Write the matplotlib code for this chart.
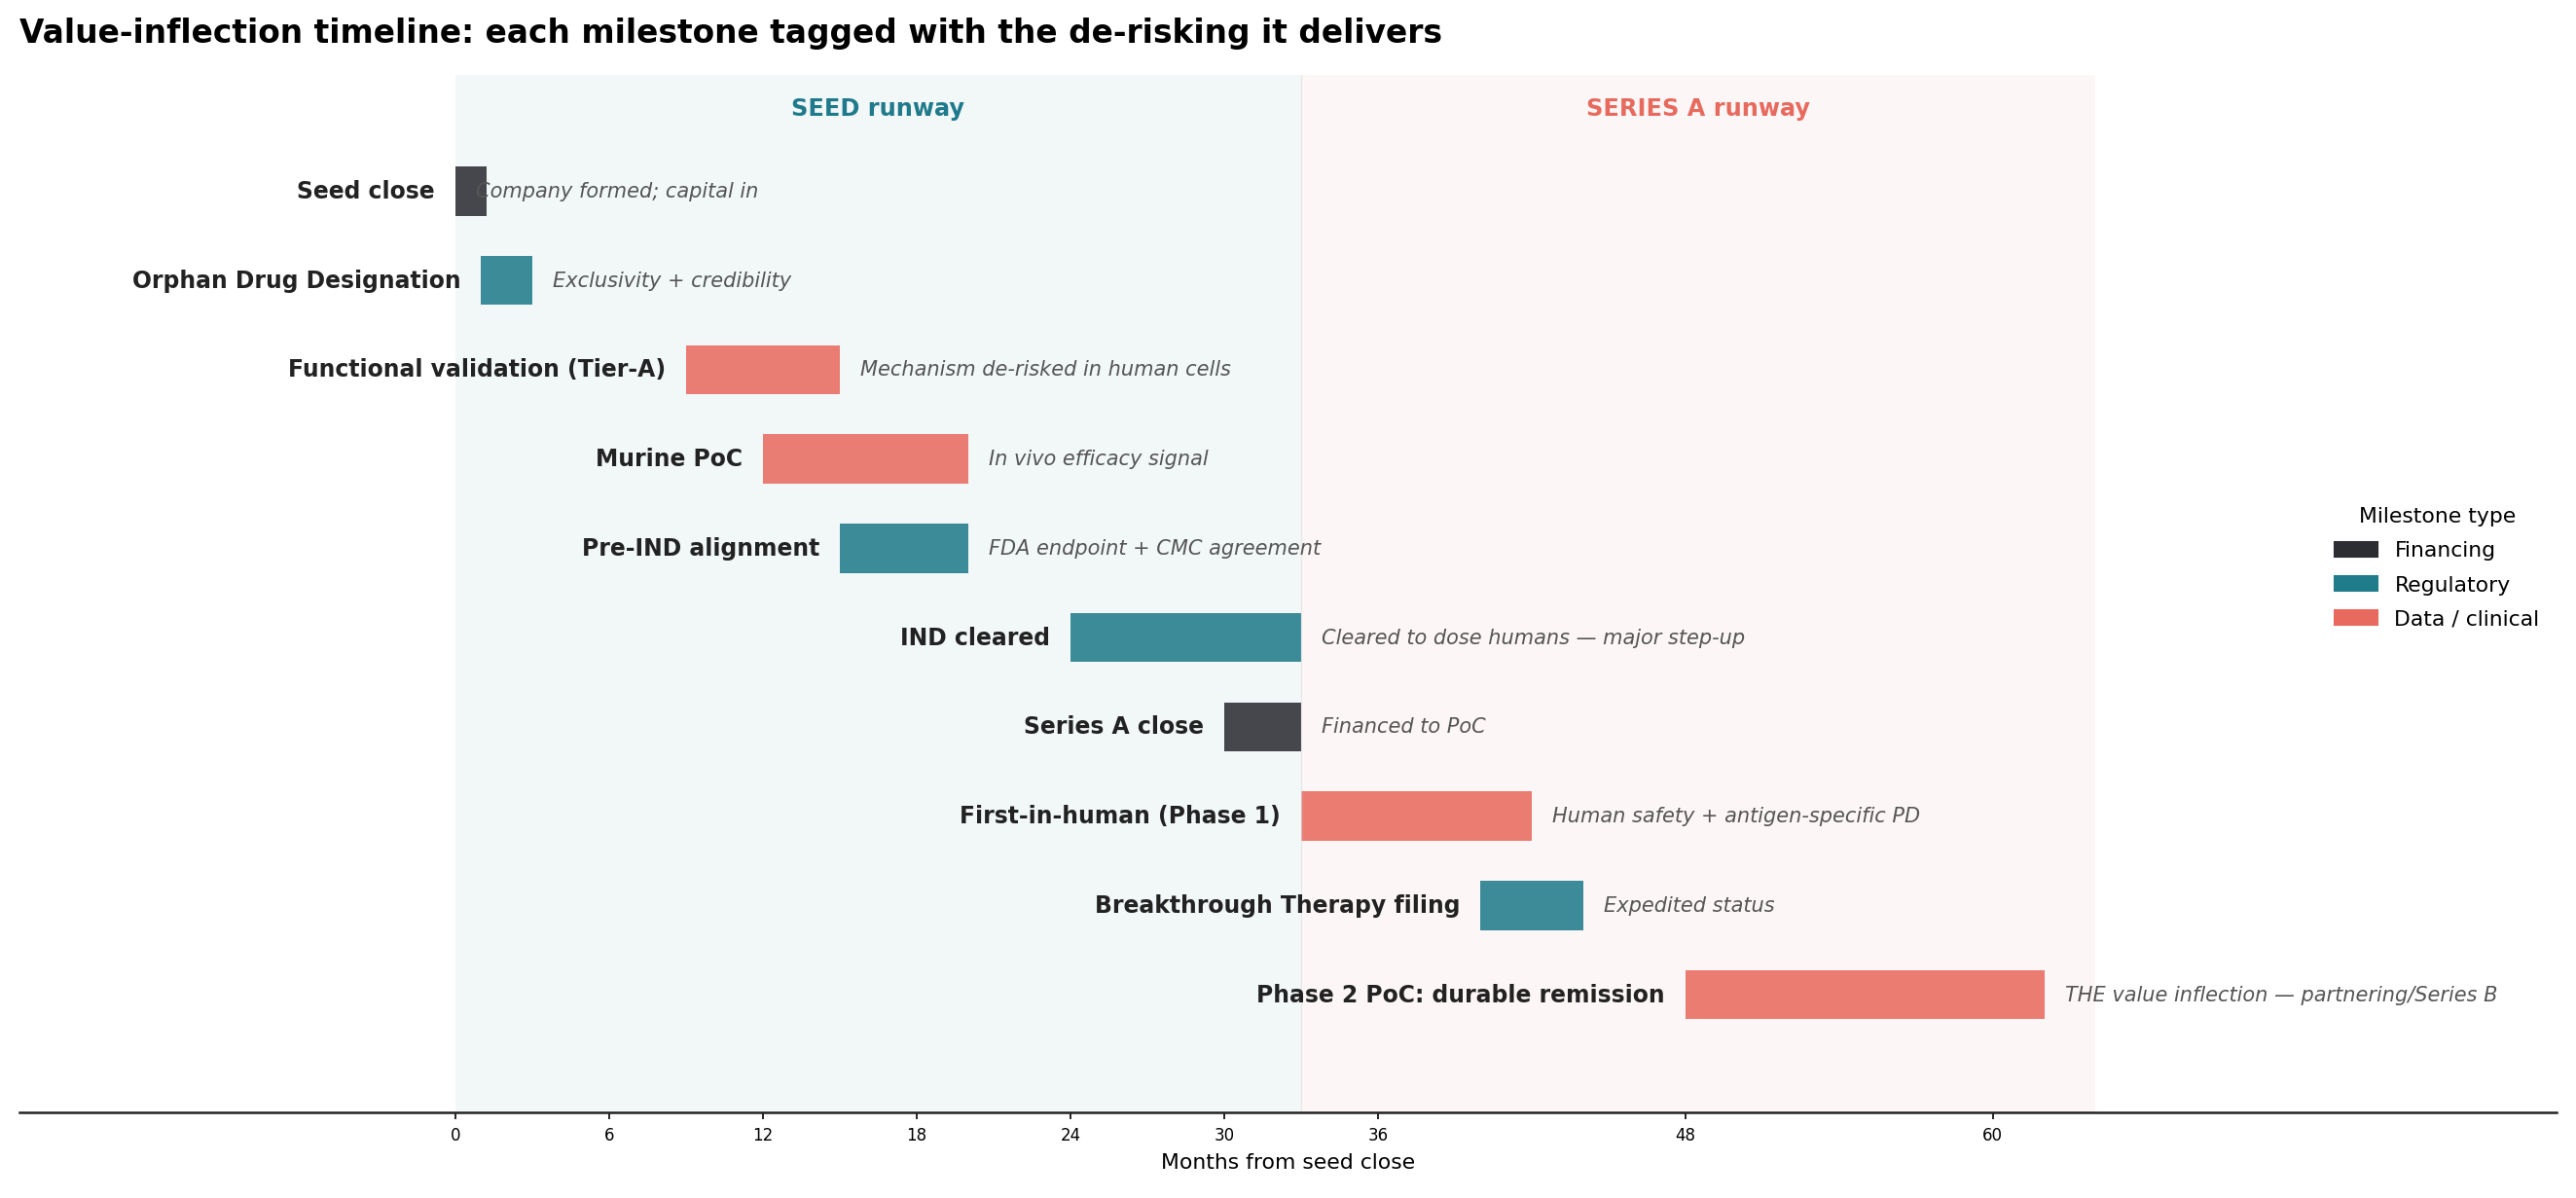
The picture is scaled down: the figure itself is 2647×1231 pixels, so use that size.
import numpy as np
import matplotlib
matplotlib.use("Agg")
import matplotlib.pyplot as plt
from matplotlib.patches import Patch

milestones = ["Seed close", "Orphan Drug Designation", "Functional validation (Tier-A)",
              "Murine PoC", "Pre-IND alignment", "IND cleared", "Series A close",
              "First-in-human (Phase 1)", "Breakthrough Therapy filing",
              "Phase 2 PoC: durable remission"]
start = [0, 1, 9, 12, 15, 24, 30, 33, 40, 48]
duration = [0, 2, 6, 8, 5, 9, 3, 9, 4, 14]
kind = ["Financing", "Regulatory", "Data / clinical", "Data / clinical", "Regulatory",
        "Regulatory", "Financing", "Data / clinical", "Regulatory", "Data / clinical"]
notes = ["Company formed; capital in", "Exclusivity + credibility",
         "Mechanism de-risked in human cells", "In vivo efficacy signal",
         "FDA endpoint + CMC agreement", "Cleared to dose humans \u2014 major step-up",
         "Financed to PoC", "Human safety + antigen-specific PD", "Expedited status",
         "THE value inflection \u2014 partnering/Series B"]

phases = ["SEED runway", "SERIES A runway"]
phase_start = [0, 33]
phase_end = [33, 64]

ticks = [0, 6, 12, 18, 24, 30, 36, 48, 60]

colors = {"Financing": "#2c2d32", "Regulatory": "#207b8b", "Data / clinical": "#e86a5f"}
phase_colors = ["#1f7a8c", "#e76a5e"]

fig = plt.figure(figsize=(17.65, 8.21), dpi=150)
ax = fig.add_axes([0.0077, 0.0713, 0.9846, 0.8657])

for i in range(2):
    ax.axvspan(phase_start[i], phase_end[i], color=phase_colors[i], alpha=0.055, lw=0)
    ax.text((phase_start[i] + phase_end[i]) / 2, -0.93, phases[i], ha="center", va="center",
            fontsize=11.5, fontweight="bold", color=phase_colors[i])
ax.axvline(phase_end[0], color="#dddddd", lw=0.6, alpha=0.6)

for i, name in enumerate(milestones):
    w = max(duration[i], 1.2)
    ax.barh(i, w, left=start[i], height=0.55, color=colors[kind[i]], alpha=0.87, lw=0)
    ax.text(start[i] - 0.8, i, name, ha="right", va="center", fontsize=11.3,
            fontweight="bold", color="#222222")
    ax.text(start[i] + duration[i] + 0.8, i, notes[i], ha="left", va="center",
            fontsize=10, style="italic", color="#555555")

ax.set_xlim(-17, 82)
ax.set_ylim(10.32, -1.3)
ax.set_yticks([])
ax.set_xticks(ticks)
ax.tick_params(axis="x", labelsize=8)
ax.set_xlabel("Months from seed close", fontsize=10.5)
for s in ["left", "right", "top"]:
    ax.spines[s].set_visible(False)
ax.spines["bottom"].set_linewidth(1.2)
ax.spines["bottom"].set_color("#222222")

handles = [Patch(color=colors[k], label=k) for k in colors]
ax.legend(handles=handles, title="Milestone type", loc="center left",
          bbox_to_anchor=(0.905, 0.525), frameon=False, fontsize=10.5, title_fontsize=10.5,
          labelspacing=0.7)

fig.text(0.0077, 0.972, "Value-inflection timeline: each milestone tagged with the de-risking it delivers",
         ha="left", va="center", fontsize=15.75, fontweight="bold")

fig.savefig("out.png", dpi=150)
